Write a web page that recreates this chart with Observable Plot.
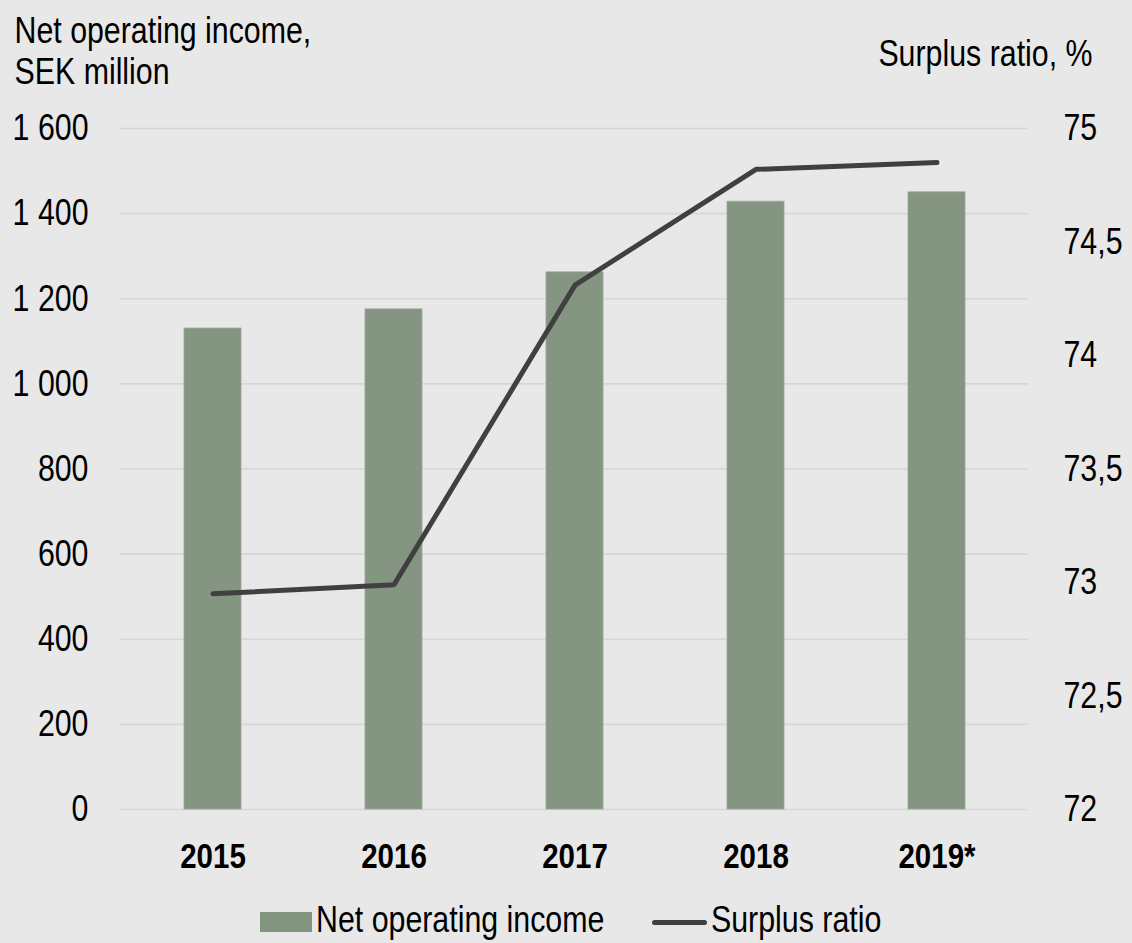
<!DOCTYPE html>
<html>
<head>
<meta charset="utf-8">
<script src="https://cdn.jsdelivr.net/npm/d3@7"></script>
<script src="https://cdn.jsdelivr.net/npm/@observablehq/plot@0.6"></script>
<style>
  html, body { margin: 0; padding: 0; background: #e8e8e8; overflow: hidden; }
  body { width: 1132px; height: 943px; font-family: "Liberation Sans", Arial, sans-serif; }
  #legend { position: relative; height: 58px; font-size: 37px; color: #000; }
  #legend > * { position: absolute; }
  .sw-bar { left: 260px; top: 27px; width: 52px; height: 20px; background: #849581; }
  .sw-line { left: 652px; top: 35px; width: 55px; height: 5px; border-radius: 3px; background: #404040; }
  .lt { top: 6px; line-height: 58px; height: 58px; transform: scaleX(0.82); transform-origin: left center; white-space: nowrap; }
</style>
</head>
<body>
<div id="chart"></div>
<div id="legend">
  <div class="sw-bar"></div><span class="lt" style="left:316px">Net operating income</span>
  <div class="sw-line"></div><span class="lt" style="left:711px">Surplus ratio</span>
</div>
<script>
const years = ["2015", "2016", "2017", "2018", "2019*"];
const income = [1130, 1175, 1262, 1428, 1450];
const surplus = [72.95, 72.99, 74.31, 74.82, 74.85];
const leftTicks = [0, 200, 400, 600, 800, 1000, 1200, 1400, 1600];
const rightTicks = [72, 72.5, 73, 73.5, 74, 74.5, 75];
const leftTitle = ["Net operating income,", "SEK million"];
const rightTitle = "Surplus ratio, %";

const rMin = 72, rMax = 75, lMax = 1600;
const toLeft = v => (v - rMin) / (rMax - rMin) * lMax;
const fromLeft = v => v / lMax * (rMax - rMin) + rMin;

const data = years.map((y, i) => ({year: y, income: income[i], surplus: toLeft(surplus[i])}));

const fmtLeft = d => d3.format(",")(d).replace(/,/g, " ");
const fmtRight = d => {
  const v = Math.round(fromLeft(d) * 10) / 10;
  return String(v).replace(".", ",");
};

const font = "'Liberation Sans', Arial, sans-serif";

const chart = Plot.plot({
  width: 1132,
  height: 885,
  marginLeft: 120,
  marginRight: 104,
  marginTop: 128,
  marginBottom: 76,
  style: {background: "#e8e8e8", fontFamily: font, color: "#000"},
  x: {domain: years, paddingInner: 0.686, paddingOuter: 0.343, label: null},
  y: {domain: [0, lMax], label: null},
  marks: [
    Plot.ruleY(leftTicks, {stroke: "#d6d6d6", strokeWidth: 1.6}),
    Plot.barY(data, {x: "year", y: "income", fill: "#849581", stroke: "#9aa897", strokeWidth: 0.8}),
    Plot.line(data, {x: "year", y: "surplus", stroke: "#404040", strokeWidth: 5, strokeLinecap: "round", strokeLinejoin: "miter"}),
    Plot.axisY(leftTicks, {anchor: "left", tickSize: 0, tickPadding: 32, tickFormat: fmtLeft, fontSize: 37, label: null}),
    Plot.axisY(rightTicks.map(toLeft), {anchor: "right", tickSize: 0, tickPadding: 35, tickFormat: fmtRight, fontSize: 37, label: null}),
    Plot.axisX({tickSize: 0, tickPadding: 33, fontSize: 36, fontWeight: "bold", label: null}),
    Plot.text([leftTitle[0]], {frameAnchor: "top-left", dx: -106, dy: 42 - 128, textAnchor: "start", lineAnchor: "bottom", fontSize: 37, fill: "#000"}),
    Plot.text([leftTitle[1]], {frameAnchor: "top-left", dx: -106, dy: 83 - 128, textAnchor: "start", lineAnchor: "bottom", fontSize: 37, fill: "#000"}),
    Plot.text([rightTitle], {frameAnchor: "top-right", dx: 64, dy: 65 - 128, textAnchor: "end", lineAnchor: "bottom", fontSize: 37, fill: "#000"})
  ]
});
document.getElementById("chart").appendChild(chart);
// emulate a narrow face: condense every text horizontally around its anchor point
chart.querySelectorAll("text").forEach(t => {
  const x = +(t.getAttribute("x") || 0);
  const prev = t.getAttribute("transform") || "";
  t.setAttribute("transform", `${prev} translate(${x},0) scale(0.82,1) translate(${-x},0)`.trim());
});
</script>
</body>
</html>
